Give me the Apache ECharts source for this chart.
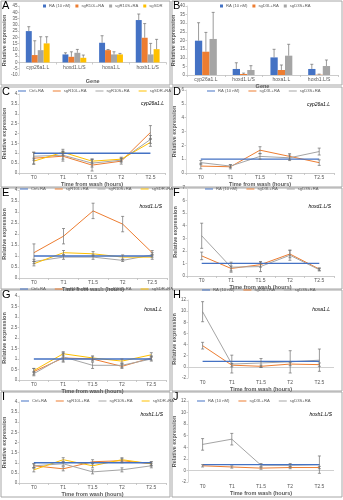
<!DOCTYPE html>
<html><head><meta charset="utf-8">
<script src="https://cdn.jsdelivr.net/npm/echarts@6/dist/echarts.min.js"></script>
<style>html,body{margin:0;padding:0;background:#fff}#c{width:343px;height:500px}</style>
</head><body><div id="c"></div>
<script>
// ---------- data ----------
const genes = ['cyp26a1.L', 'hoxd1.L/S', 'hoxa1.L', 'hoxb1.L/S'];
const times = ['T0', 'T1', 'T1.5', 'T2', 'T2.5'];

// Panel A (bars, RDH10/SDR knockdown)
const aRA = [25, 6.4, 15.7, 33.8];     const aRAErr = [3.5, 1.3, 5.6, 4.8];
const aR10L = [5.9, 4.5, 9.8, 19.7];   const aR10LErr = [11.4, 4, 0.5, 11.3];
const aR10S = [9.8, 7.7, 6.4, 6.4];    const aR10SErr = [10.7, 2.7, 2.1, 8.8];
const aSDR = [15.2, 3.7, 6.4, 10.6];   const aSDRErr = [5.3, 2.2, 0.8, 7.8];
// Panel B (bars, DHRS3 knockdown)
const bRA = [19.9, 3.5, 10.2, 3.5];    const bRAErr = [10.4, 3.6, 4.7, 2.7];
const bD3L = [13.5, 0.6, 2.9, 0.2];    const bD3LErr = [11.2, 0.5, 2.9, 0.3];
const bD3S = [20.9, 2.9, 11.2, 5.2];   const bD3SErr = [15.4, 2.5, 6.6, 3.5];

const ones = [1, 1, 1, 1, 1];
// C cyp26a1.L
const cR10L = [0.75, 0.85, 0.4, 0.6, 2.05];  const cR10LErr = [0.3, 0.25, 0.3, 0.15, 0.35];
const cR10S = [0.85, 0.9, 0.5, 0.65, 1.7];   const cR10SErr = [0.2, 0.2, 0.2, 0.1, 0.2];
const cSDR = [0.6, 1.05, 0.6, 0.7, 1.55];    const cSDRErr = [0.15, 0.15, 0.1, 0.1, 0.2];
// D cyp26a1.L
const dD3L = [0.5, 0.45, 1.65, 1.2, 0.75];   const dD3LErr = [0.2, 0.15, 0.25, 0.2, 0.2];
const dD3S = [0.75, 0.5, 1.2, 1.1, 1.55];    const dD3SErr = [0.15, 0.1, 0.2, 0.2, 0.25];
// E hoxd1.L/S
const eR10L = [1.15, 1.9, 3.05, 2.45, 1.15]; const eR10LErr = [0.4, 0.35, 0.35, 0.35, 0.1];
const eR10S = [0.75, 0.95, 0.95, 0.8, 1.05]; const eR10SErr = [0.1, 0.1, 0.1, 0.05, 0.1];
const eSDR = [0.65, 1.15, 1.1, 0.95, 0.95];  const eSDRErr = [0.1, 0.1, 0.1, 0.1, 0.1];
// F hoxd1.L/S
const fD3L = [1.6, 0.6, 0.9, 1.75, 0.55];    const fD3LErr = [0.3, 0.2, 0.2, 0.3, 0.1];
const fD3S = [3.2, 0.7, 0.75, 1.65, 0.5];    const fD3SErr = [1.0, 0.4, 0.4, 0.4, 0.1];
// G hoxa1.L
const gR10L = [0.4, 1.05, 1.0, 0.65, 1.05];  const gR10LErr = [0.15, 0.2, 0.1, 0.1, 0.1];
const gR10S = [0.3, 1.1, 0.7, 0.7, 1.0];     const gR10SErr = [0.1, 0.2, 0.15, 0.1, 0.1];
const gSDR = [0.45, 1.25, 1.05, 0.9, 1.2];   const gSDRErr = [0.1, 0.1, 0.1, 0.1, 0.1];
// H hoxa1.L
const hD3L = [3.8, 0.3, 0.1, 0.5, 0.4];      const hD3LErr = [0.6, 0.3, 0.2, 0.3, 0.3];
const hD3S = [9.9, 0.5, 0.7, 0.9, 1.2];      const hD3SErr = [1.8, 1.6, 0.8, 2.0, 2.0];
// I hoxb1.L/S
const iR10L = [0.85, 0.7, 1.05, 1.1, 0.95];  const iR10LErr = [0.1, 0.1, 0.1, 0.1, 0.1];
const iR10S = [0.85, 0.95, 0.55, 0.65, 0.85];const iR10SErr = [0.1, 0.1, 0.1, 0.1, 0.1];
const iSDR = [0.65, 1.15, 0.85, 1.15, 0.95]; const iSDRErr = [0.1, 0.1, 0.1, 0.1, 0.1];
// J hoxb1.L/S
const jD3L = [0.8, 0.6, 0.4, 0.5, 0.5];      const jD3LErr = [0.2, 0.2, 0.2, 0.2, 0.2];
const jD3S = [4.5, 5.4, 0.9, 0.9, 1.0];      const jD3SErr = [1.0, 1.0, 0.3, 0.3, 1.5];

// ---------- style ----------
const BLUE = '#4472C4', ORANGE = '#ED7D31', GRAY = '#A5A5A5', YELLOW = '#FFC000';
const FONT = 'Liberation Sans';
const TXT = '#595959';
const XT = 'Time from wash (hours)';

const panels = [
  {kind:'bar', letter:'A', box:[1,1,169,84], grid:{left:16,top:6,width:150,height:69}, y:[-10,45,5], cats:genes, catGap:0.35,
   series:[['RA (10 nM)',BLUE,aRA,aRAErr],['sgR10L+RA',ORANGE,aR10L,aR10LErr],['sgR10S+RA',GRAY,aR10S,aR10SErr],['sgSDR',YELLOW,aSDR,aSDRErr]],
   legend:[43,4], xName:'Gene', xGap:16, yGap:6, zeroAxis:true},
  {kind:'bar', letter:'B', box:[172,1,170,84], grid:{left:187,top:6,width:151,height:69}, y:[0,40,5], cats:genes, catGap:0.42,
   series:[['RA (10 nM)',BLUE,bRA,bRAErr],['sgD3L+RA',ORANGE,bD3L,bD3LErr],['sgD3S+RA',GRAY,bD3S,bD3SErr]],
   legend:[220,4], xName:'Gene', xGap:3, yGap:4},
  {kind:'line', letter:'C', box:[1,87,169,100], grid:{left:17,top:94,width:148,height:79}, y:[0,4,0.5], cats:times,
   series:[['Ctrl+RA',BLUE,ones,null],['sgR10L+RA',ORANGE,cR10L,cR10LErr],['sgR10S+RA',GRAY,cR10S,cR10SErr],['sgSDR+RA',YELLOW,cSDR,cSDRErr]],
   legend:[18,89], gene:['cyp26a1.L',164,104], xName:XT, xGap:6, yGap:7},
  {kind:'line', letter:'D', box:[172,87,170,100], grid:{left:186,top:90,width:148,height:83}, y:[0,6,1], cats:times,
   series:[['RA (10 nM)',BLUE,ones,null],['sgD3L+RA',ORANGE,dD3L,dD3LErr],['sgD3S+RA',GRAY,dD3S,dD3SErr]],
   legend:[207,89], gene:['cyp26a1.L',330,105], xName:XT, xGap:6, yGap:4},
  {kind:'line', letter:'E', box:[1,188,169,101], grid:{left:18,top:190,width:149,height:88}, y:[0,4,0.5], cats:times,
   series:[['Ctrl+RA',BLUE,ones,null],['sgR10L+RA',ORANGE,eR10L,eR10LErr],['sgR10S+RA',GRAY,eR10S,eR10SErr],['sgSDR+RA',YELLOW,eSDR,eSDRErr]],
   legend:[20,187], gene:['hoxd1.L/S',162,207], xName:XT, xGap:6, yGap:8},
  {kind:'line', letter:'F', box:[172,188,170,101], grid:{left:187,top:188,width:147,height:88}, y:[0,7,1], cats:times,
   series:[['RA (10 nM)',BLUE,ones,null],['sgD3L+RA',ORANGE,fD3L,fD3LErr],['sgD3S+RA',GRAY,fD3S,fD3SErr]],
   legend:[205,187], gene:['hoxd1.L/S',331,207], xName:XT, xGap:7, yGap:5},
  {kind:'line', letter:'G', box:[1,290,169,101], grid:{left:18,top:296,width:148,height:84}, y:[0,4,0.5], cats:times,
   series:[['Ctrl+RA',BLUE,ones,null],['sgR10L+RA',ORANGE,gR10L,gR10LErr],['sgR10S+RA',GRAY,gR10S,gR10SErr],['sgSDR+RA',YELLOW,gSDR,gSDRErr]],
   legend:[20,287], gene:['hoxa1.L',162,310], xName:XT, xGap:6, yGap:8},
  {kind:'line', letter:'H', box:[172,290,170,101], grid:{left:188,top:300,width:146,height:78}, y:[-2,12,2], cats:times, zeroLine:true,
   series:[['RA (10 nM)',BLUE,ones,null],['sgD3L+RA',ORANGE,hD3L,hD3LErr],['sgD3S+RA',GRAY,hD3S,hD3SErr]],
   legend:[202,288], gene:['hoxa1.L',330,310], xName:XT, xGap:7, yGap:6},
  {kind:'line', letter:'I', box:[1,392,169,105], grid:{left:18,top:402,width:148,height:81}, y:[0,4,0.5], cats:times,
   series:[['Ctrl+RA',BLUE,ones,null],['sgR10L+RA',ORANGE,iR10L,iR10LErr],['sgR10S+RA',GRAY,iR10S,iR10SErr],['sgSDR+RA',YELLOW,iSDR,iSDRErr]],
   legend:[21,399], gene:['hoxb1.L/S',163,415], xName:XT, xGap:4, yGap:8},
  {kind:'line', letter:'J', box:[172,392,170,105], grid:{left:188,top:401,width:146,height:81}, y:[-2,12,2], cats:times, zeroLine:true,
   series:[['RA (10 nM)',BLUE,ones,null],['sgD3L+RA',ORANGE,jD3L,jD3LErr],['sgD3S+RA',GRAY,jD3S,jD3SErr]],
   legend:[197,399], gene:['hoxb1.L/S',332,415], xName:XT, xGap:4, yGap:7}
];

function errRender(kind, k, n, catGap) {
  return function (params, api) {
    const x = api.value(0), v = api.value(1), e = api.value(2);
    if (!e) return null;
    let px = api.coord([x, v])[0];
    if (kind === 'bar') {
      const band = api.size([1, 0])[0];
      const gw = band * (1 - catGap), bw = gw / n;
      px += -gw / 2 + bw * (k + 0.5);
    }
    const top = api.coord([x, v + e])[1];
    const bot = kind === 'bar' ? api.coord([x, v])[1] : api.coord([x, v - e])[1];
    const cap = 1.5;
    const st = {stroke: '#6f6f6f', lineWidth: 0.7};
    const ch = [
      {type: 'line', shape: {x1: px, y1: top, x2: px, y2: bot}, style: st},
      {type: 'line', shape: {x1: px - cap, y1: top, x2: px + cap, y2: top}, style: st}
    ];
    if (kind !== 'bar') ch.push({type: 'line', shape: {x1: px - cap, y1: bot, x2: px + cap, y2: bot}, style: st});
    return {type: 'group', children: ch};
  };
}

const option = {
  animation: false,
  backgroundColor: '#fff',
  textStyle: {fontFamily: FONT},
  grid: [], xAxis: [], yAxis: [], series: [], legend: [], graphic: []
};

panels.forEach((p, pi) => {
  option.grid.push(Object.assign({containLabel: false}, p.grid));
  // pixel offset that lifts the category axis onto the zero value (panel A)
  let off = 0;
  if (p.zeroAxis) off = -p.grid.height * (0 - p.y[0]) / (p.y[1] - p.y[0]);
  option.xAxis.push({
    type: 'category', gridIndex: pi, data: p.cats, position: 'bottom', offset: off,
    name: p.xName, nameLocation: 'middle', nameGap: p.xGap,
    nameTextStyle: {fontSize: 5.5, fontWeight: 'bold', color: TXT, fontFamily: FONT},
    axisLine: {show: !p.zeroLine, onZero: false, lineStyle: {color: '#bfbfbf', width: 0.8}},
    axisTick: {show: !p.zeroLine, length: 2, lineStyle: {color: '#bfbfbf', width: 0.8}},
    axisLabel: {fontSize: 5, color: TXT, margin: 2.5, fontFamily: FONT, interval: 0},
    splitLine: {show: false}
  });
  option.yAxis.push({
    type: 'value', gridIndex: pi, min: p.y[0], max: p.y[1], interval: p.y[2],
    name: 'Relative expression', nameLocation: 'middle', nameGap: p.yGap, nameRotate: 90,
    nameTextStyle: {fontSize: 5.5, fontWeight: 'bold', color: TXT, fontFamily: FONT},
    axisLine: {show: true, lineStyle: {color: '#d0d0d0', width: 0.8}},
    axisTick: {show: true, length: 1.5, lineStyle: {color: '#bfbfbf', width: 0.8}},
    axisLabel: {fontSize: 4.5, color: TXT, margin: 2, fontFamily: FONT},
    splitLine: {show: false}
  });
  const n = p.series.length;
  p.series.forEach((s, k) => {
    const [name, color, vals, errs] = s;
    if (p.kind === 'bar') {
      option.series.push({
        type: 'bar', name, xAxisIndex: pi, yAxisIndex: pi, data: vals,
        itemStyle: {color}, barGap: '0%', barCategoryGap: (p.catGap * 100) + '%', z: 2
      });
    } else {
      const ser = {
        type: 'line', name, xAxisIndex: pi, yAxisIndex: pi, data: vals,
        symbol: 'none', lineStyle: {color, width: k === 0 ? 1.3 : 1}, itemStyle: {color}, z: k === 0 ? 4 : 3
      };
      if (k === 0 && p.zeroLine) {
        ser.markLine = {silent: true, symbol: 'none', label: {show: false},
          lineStyle: {color: '#d0d0d0', type: 'solid', width: 1}, data: [{yAxis: 0}]};
      }
      option.series.push(ser);
    }
    if (errs) {
      option.series.push({
        type: 'custom', xAxisIndex: pi, yAxisIndex: pi, z: 5, silent: true,
        renderItem: errRender(p.kind, k, n, p.catGap || 0),
        data: vals.map((v, i) => [i, v, errs[i]])
      });
    }
  });
  const isBar = p.kind === 'bar';
  option.legend.push({
    left: p.legend[0], top: p.legend[1], orient: 'horizontal', padding: 0,
    data: p.series.map(s => s[0]),
    icon: 'rect', itemWidth: isBar ? 3 : 8, itemHeight: isBar ? 3 : 1,
    itemGap: isBar ? 5 : 9,
    textStyle: {fontSize: 4.2, color: TXT, fontFamily: FONT, padding: [0, 0, 0, -2]}
  });
  option.graphic.push({
    type: 'rect', shape: {x: p.box[0], y: p.box[1], width: p.box[2], height: p.box[3]},
    style: {fill: 'none', stroke: '#a6a6a6', lineWidth: 1}, z: -1, silent: true
  });
  option.graphic.push({
    type: 'text', x: p.box[0] + 1, y: p.box[1] - 1,
    style: {text: p.letter, fontSize: 11, fill: '#000', fontFamily: FONT}, z: 10
  });
  if (p.gene) {
    option.graphic.push({
      type: 'text', x: p.gene[1], y: p.gene[2],
      style: {text: p.gene[0], fontSize: 5, fill: '#000', fontFamily: FONT, fontStyle: 'italic',
        textAlign: 'right', textVerticalAlign: 'middle'}, z: 10
    });
  }
});

const chart = echarts.init(document.getElementById('c'), null, {renderer: 'canvas'});
chart.setOption(option);
</script>
</body></html>
